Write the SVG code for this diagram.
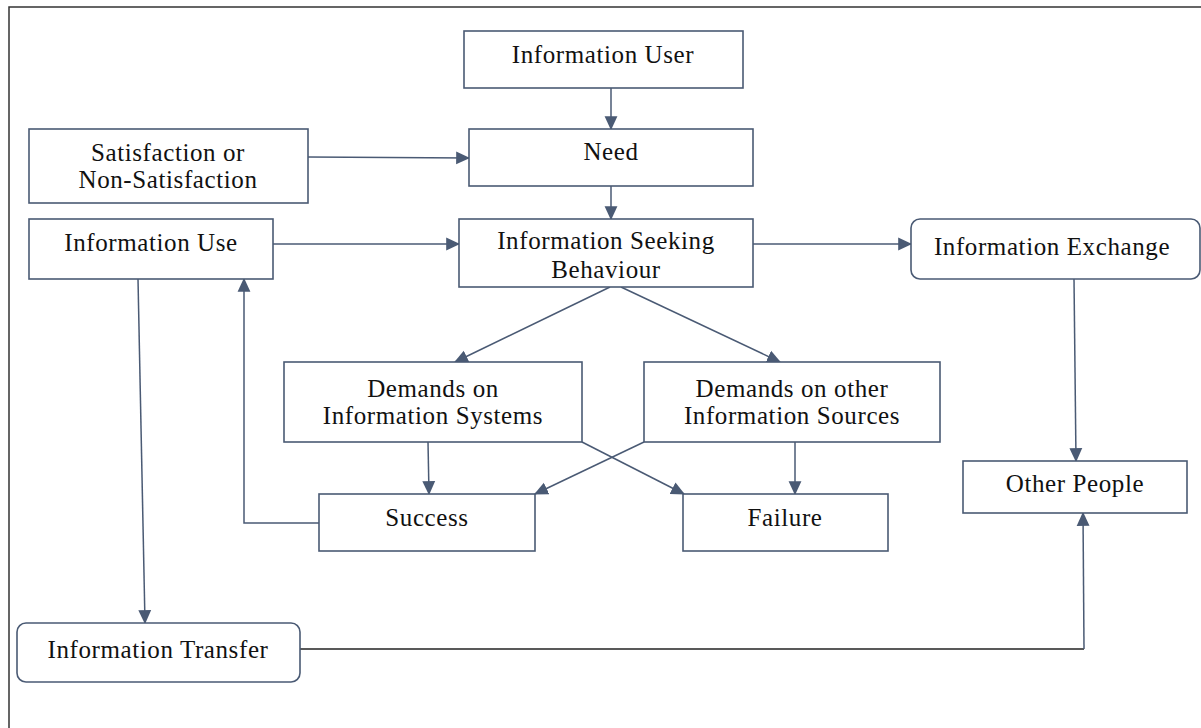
<svg xmlns="http://www.w3.org/2000/svg" width="1201" height="728" viewBox="0 0 1201 728">
<style>
.box{fill:#fff;stroke:#4a5a74;stroke-width:1.6}
.t{font-family:'Liberation Serif','Times New Roman',serif;font-size:25px;letter-spacing:0.6px;fill:#111;text-anchor:middle}
.c{fill:none;stroke:#4a5a74;stroke-width:1.5}
.dark{stroke:#222}
</style>
<defs>
<marker id="ah" markerUnits="userSpaceOnUse" markerWidth="14" markerHeight="14" viewBox="0 0 12 12" refX="11" refY="6" orient="auto">
<path d="M0,0.5 L12,6 L0,11.5 Z" fill="#4a5a74"/>
</marker>
</defs>
<rect x="0" y="0" width="1201" height="728" fill="#fff"/>
<rect x="9" y="7" width="1200" height="730" fill="none" stroke="#333" stroke-width="1.5"/>

<g id="connectors">
<line class="c" x1="611" y1="88" x2="611" y2="129" marker-end="url(#ah)"/>
<line class="c" x1="308" y1="157" x2="469" y2="158" marker-end="url(#ah)"/>
<line class="c" x1="611" y1="186" x2="611" y2="219" marker-end="url(#ah)"/>
<line class="c" x1="273" y1="244" x2="459" y2="244" marker-end="url(#ah)"/>
<line class="c" x1="753" y1="244" x2="911" y2="244" marker-end="url(#ah)"/>
<line class="c" x1="610" y1="287" x2="455" y2="362" marker-end="url(#ah)"/>
<line class="c" x1="621" y1="287" x2="780" y2="362" marker-end="url(#ah)"/>
<line class="c" x1="428" y1="442" x2="429" y2="494" marker-end="url(#ah)"/>
<line class="c" x1="795" y1="442" x2="795" y2="494" marker-end="url(#ah)"/>
<line class="c" x1="644" y1="442" x2="535" y2="494" marker-end="url(#ah)"/>
<line class="c" x1="582" y1="442" x2="684" y2="494" marker-end="url(#ah)"/>
<polyline class="c" points="319,523 244,523 244,279" marker-end="url(#ah)"/>
<line class="c" x1="138" y1="279" x2="145" y2="623" marker-end="url(#ah)"/>
<line class="c" x1="1074" y1="279" x2="1076" y2="461" marker-end="url(#ah)"/>
<polyline class="c dark" points="300,649 1084,649"/>
<line class="c" x1="1084" y1="649" x2="1083" y2="513" marker-end="url(#ah)"/>
</g>

<g id="info-user"><rect class="box" x="464" y="31" width="279" height="57"/><text class="t" x="603" y="63">Information User</text></g>
<g id="need"><rect class="box" x="469" y="129" width="284" height="57"/><text class="t" x="611" y="160">Need</text></g>
<g id="satisfaction"><rect class="box" x="29" y="129" width="279" height="74"/><text class="t" x="168" y="161">Satisfaction or</text><text class="t" x="168" y="188">Non-Satisfaction</text></g>
<g id="info-use"><rect class="box" x="29" y="219" width="244" height="60"/><text class="t" x="151" y="251">Information Use</text></g>
<g id="isb"><rect class="box" x="459" y="219" width="294" height="68"/><text class="t" x="606" y="249">Information Seeking</text><text class="t" x="606" y="278">Behaviour</text></g>
<g id="info-exchange"><rect class="box" x="911" y="219" width="289" height="60" rx="9"/><text class="t" x="1052" y="255">Information Exchange</text></g>
<g id="demands-is"><rect class="box" x="284" y="362" width="298" height="80"/><text class="t" x="433" y="397">Demands on</text><text class="t" x="433" y="424">Information Systems</text></g>
<g id="demands-other"><rect class="box" x="644" y="362" width="296" height="80"/><text class="t" x="792" y="397">Demands on other</text><text class="t" x="792" y="424">Information Sources</text></g>
<g id="success"><rect class="box" x="319" y="494" width="216" height="57"/><text class="t" x="427" y="526">Success</text></g>
<g id="failure"><rect class="box" x="683" y="494" width="205" height="57"/><text class="t" x="785" y="526">Failure</text></g>
<g id="other-people"><rect class="box" x="963" y="461" width="224" height="52"/><text class="t" x="1075" y="492">Other People</text></g>
<g id="info-transfer"><rect class="box" x="17" y="623" width="283" height="59" rx="9"/><text class="t" x="158" y="658">Information Transfer</text></g>
</svg>
